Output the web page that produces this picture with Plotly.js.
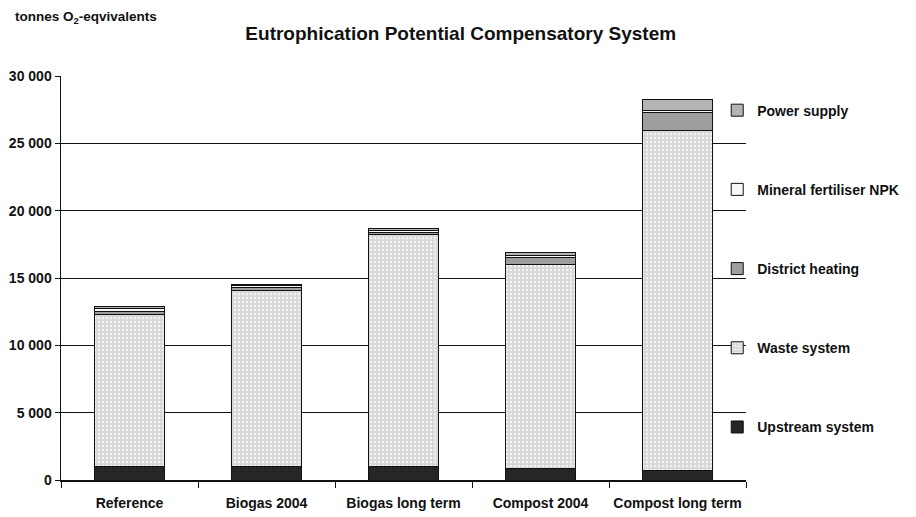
<!DOCTYPE html>
<html>
<head>
<meta charset="utf-8">
<script src="https://cdn.plot.ly/plotly-3.0.1.min.js"></script>
<style>html,body{margin:0;padding:0;background:#fff;}#chart{width:916px;height:517px;}</style>
</head>
<body>
<div id="chart"></div>
<script>
const categories = ["Reference", "Biogas 2004", "Biogas long term", "Compost 2004", "Compost long term"];
const upstreamSystem = [970, 1000, 1000, 890, 670];
const wasteSystem = [11330, 13100, 17200, 15110, 25250];
const districtHeating = [200, 200, 150, 500, 1400];
const mineralFertiliser = [250, 150, 200, 200, 100];
const powerSupply = [100, 100, 100, 200, 850];
const seriesNames = ["Upstream system", "Waste system", "District heating", "Mineral fertiliser NPK", "Power supply"];
const yTickVals = [0, 5000, 10000, 15000, 20000, 25000, 30000];
const yTickText = ["0", "5 000", "10 000", "15 000", "20 000", "25 000", "30 000"];

const colors = ["#262626", "#dadada", "#9e9e9e", "#f7f7f7", "#b4b4b4"];
const allSeries = [upstreamSystem, wasteSystem, districtHeating, mineralFertiliser, powerSupply];
const FONT = "Liberation Sans, Arial, sans-serif";

const traces = allSeries.map((vals, i) => ({
  type: "bar",
  name: seriesNames[i],
  x: categories,
  y: vals,
  legendgroup: "g" + i,
  legendrank: 100 - i,
  marker: {
    color: colors[i],
    line: {color: "#111", width: 1},
    pattern: i === 1 ? {shape: ".", fgcolor: "#f4f4f4", bgcolor: "#d8d8d8", size: 4, solidity: 0.3} : undefined
  },
  hoverinfo: "x+y+name"
}));

const layout = {
  width: 916, height: 517,
  margin: {l: 61, r: 170, t: 76, b: 37},
  barmode: "stack",
  bargap: 0.49,
  paper_bgcolor: "#fff",
  plot_bgcolor: "#fff",
  font: {family: FONT, color: "#111", size: 12},
  title: {
    text: "<b>Eutrophication Potential Compensatory System</b>",
    font: {family: FONT, size: 19, color: "#111"},
    xref: "container", x: 0.503, xanchor: "center",
    yref: "container", y: 0.936, yanchor: "middle"
  },
  xaxis: {
    type: "category",
    showline: true, linecolor: "#111", linewidth: 1.5,
    ticks: "outside", tickson: "boundaries", ticklen: 6, tickcolor: "#111",
    tickangle: 0,
    ticklabelstandoff: 10,
    tickfont: {family: FONT, size: 14, color: "#111", weight: "bold"},
    showgrid: false, zeroline: false, fixedrange: true
  },
  yaxis: {
    range: [0, 30000],
    tickvals: yTickVals, ticktext: yTickText,
    showline: true, linecolor: "#111", linewidth: 1.5,
    ticks: "outside", ticklen: 5, tickcolor: "#111",
    tickfont: {family: FONT, size: 14, color: "#111", weight: "bold"},
    showgrid: true, gridcolor: "#111", gridwidth: 1,
    zeroline: false, fixedrange: true
  },
  showlegend: true,
  legend: {
    x: 0.958, xanchor: "left", y: 0.954, yanchor: "top",
    traceorder: "grouped",
    tracegroupgap: 58,
    bgcolor: "rgba(0,0,0,0)",
    font: {family: FONT, size: 14, color: "#111", weight: "bold"},
    itemwidth: 30
  },
  annotations: [{
    text: "<b>tonnes O<sub>2</sub>-eqvivalents</b>",
    xref: "paper", yref: "paper",
    x: -0.07, xanchor: "left",
    y: 1.145, yanchor: "middle",
    showarrow: false,
    font: {family: FONT, size: 13.5, color: "#111"}
  }]
};

Plotly.newPlot("chart", traces, layout, {displayModeBar: false, staticPlot: true});
</script>
</body>
</html>
